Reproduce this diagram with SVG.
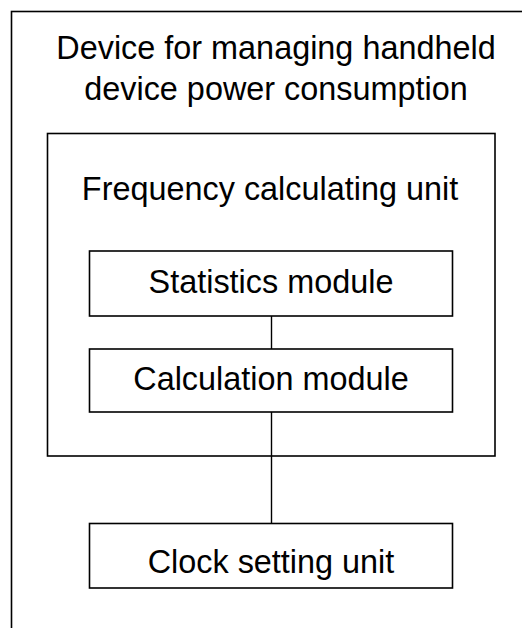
<svg xmlns="http://www.w3.org/2000/svg" width="522" height="628" viewBox="0 0 522 628">
<style>
.box{fill:none;stroke:#000;stroke-width:1.6}
.ln{stroke:#000;stroke-width:1.4;fill:none}
text{font-family:"Liberation Sans",Arial,sans-serif;font-size:32.4px;fill:#000;text-anchor:middle}
</style>
<rect x="0" y="0" width="522" height="628" fill="#fff"/>
<g id="device">
<rect class="box" x="11.5" y="11.5" width="530" height="640"/>
<text x="276" y="59">Device for managing handheld</text>
<text x="276" y="100">device power consumption</text>
</g>
<g id="frequency-unit">
<rect class="box" x="47.5" y="133.5" width="447.5" height="322.5"/>
<text x="270" y="200">Frequency calculating unit</text>
</g>
<g id="statistics-module">
<rect class="box" x="89.5" y="251" width="363" height="65"/>
<text x="271" y="293">Statistics module</text>
</g>
<g id="calculation-module">
<rect class="box" x="89.5" y="349" width="363" height="63"/>
<text x="271" y="390">Calculation module</text>
</g>
<g id="clock-setting-unit">
<rect class="box" x="89.5" y="523.5" width="363" height="64.5"/>
<text x="271" y="573">Clock setting unit</text>
</g>
<g id="connectors">
<line class="ln" x1="271.5" y1="316" x2="271.5" y2="349"/>
<line class="ln" x1="271.5" y1="412" x2="271.5" y2="523.5"/>
</g>
</svg>
